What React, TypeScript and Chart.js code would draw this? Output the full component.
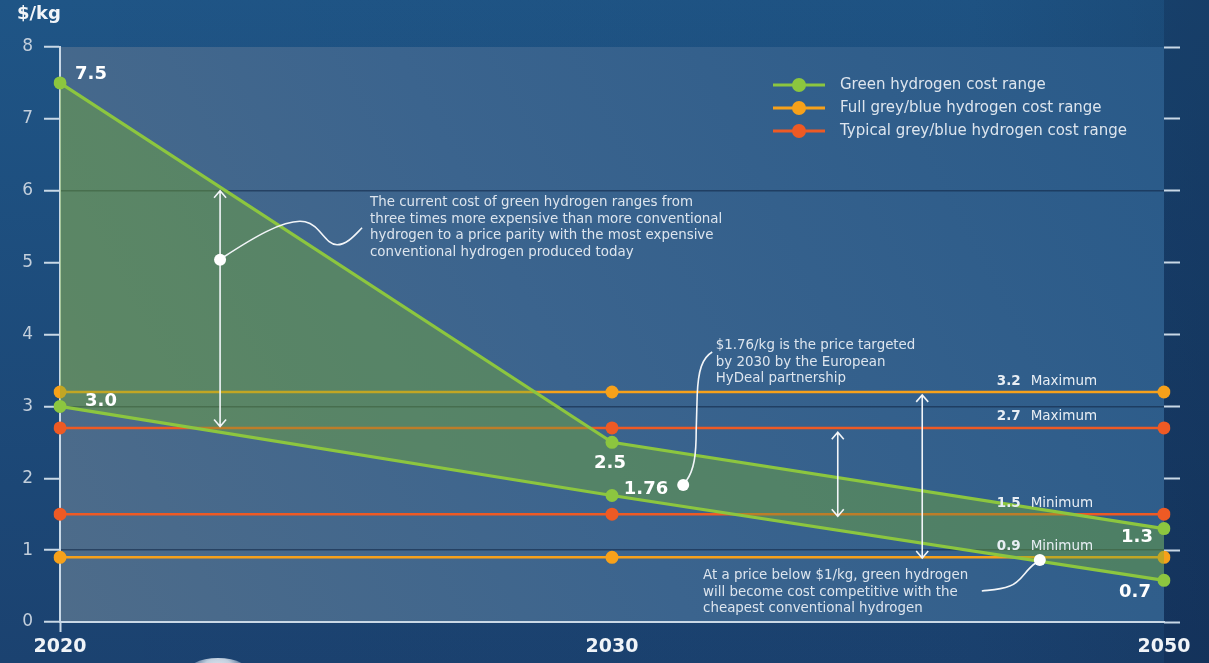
import React, { useEffect, useRef } from 'react';
import { Chart, registerables } from 'chart.js';

Chart.register(...registerables);

// ---------- data ----------
const years = ['2020', '2030', '2050'];
const greenHigh = [7.5, 2.5, 1.3];
const greenLow = [3.0, 1.76, 0.58];
const greenHighLabels = ['7.5', '2.5', '1.3'];
const greenLowLabels = ['3.0', '1.76', '0.7'];
const fullMax = [3.2, 3.2, 3.2];
const fullMin = [0.9, 0.9, 0.9];
const typicalMax = [2.7, 2.7, 2.7];
const typicalMin = [1.5, 1.5, 1.5];
const gridValues = [1, 3, 6];

const legendLabels = [
  'Green hydrogen cost range',
  'Full grey/blue hydrogen cost range',
  'Typical grey/blue hydrogen cost range',
];

const rangeNumbers = ['3.2', '2.7', '1.5', '0.9'];
const rangeWords = ['Maximum', 'Maximum', 'Minimum', 'Minimum'];
const rangeValues = [3.2, 2.7, 1.5, 0.9];

const note1 = [
  'The current cost of green hydrogen ranges from',
  'three times more expensive than more conventional',
  'hydrogen to a price parity with the most expensive',
  'conventional hydrogen produced today',
];
const note2 = [
  '$1.76/kg is the price targeted',
  'by 2030 by the European',
  'HyDeal partnership',
];
const note3 = [
  'At a price below $1/kg, green hydrogen',
  'will become cost competitive with the',
  'cheapest conventional hydrogen',
];

// double arrows: category position, from value, to value
const arrowX = [0.29, 1.409, 1.562];
const arrowFrom = [6.0, 2.64, 3.16];
const arrowTo = [2.72, 1.47, 0.89];

// callout circles: category position, value
const calloutX = [0.29, 1.129, 1.775];
const calloutY = [5.04, 1.906, 0.863];

// notes anchor: category position, value (first line)
const noteX = [0.5616, 1.188, 1.165];
const noteY = [5.83, 3.84, 0.64];

// ---------- style ----------
const GREEN = '#8cc63f';
const ORANGE = '#f7a11a';
const RED = '#ee5a24';
const AXIS = '#c9d8e6';
const TEXT = '#dde5ee';

const bgPlugin = {
  id: 'bgPlugin',
  beforeDraw(chart: any) {
    const { ctx, width, height, chartArea } = chart;
    const { left, top, right, bottom } = chartArea;
    ctx.save();
    const g = ctx.createLinearGradient(0, 0, 0, height);
    g.addColorStop(0, '#1f5586');
    g.addColorStop(1, '#1b4270');
    ctx.fillStyle = g;
    ctx.fillRect(0, 0, width, height);
    const h = ctx.createLinearGradient(0, 0, width, 0);
    h.addColorStop(0, 'rgba(10,30,60,0)');
    h.addColorStop(0.8, 'rgba(10,30,60,0.05)');
    h.addColorStop(1, 'rgba(10,30,60,0.2)');
    ctx.fillStyle = h;
    ctx.fillRect(0, 0, width, height);
    ctx.fillStyle = 'rgba(10,25,55,0.22)';
    ctx.fillRect(right, 0, width - right, height);
    const p = ctx.createLinearGradient(left, bottom, right, top);
    p.addColorStop(0, '#4e6c8a');
    p.addColorStop(0.45, '#3b648e');
    p.addColorStop(1, '#295a89');
    ctx.fillStyle = p;
    ctx.fillRect(left, top, right - left, bottom - top);
    // glow at the bottom edge
    const rg = ctx.createRadialGradient(218, 676, 2, 218, 676, 34);
    rg.addColorStop(0, 'rgba(255,255,255,0.95)');
    rg.addColorStop(0.5, 'rgba(235,242,250,0.8)');
    rg.addColorStop(1, 'rgba(200,215,235,0)');
    ctx.fillStyle = rg;
    ctx.beginPath();
    ctx.ellipse(218, 676, 34, 18, 0, 0, Math.PI * 2);
    ctx.fill();
    ctx.restore();
  },
};

function drawArrow(ctx: CanvasRenderingContext2D, x: number, y1: number, y2: number) {
  ctx.beginPath();
  ctx.moveTo(x, y1);
  ctx.lineTo(x, y2);
  ctx.moveTo(x - 6, y1 + 7);
  ctx.lineTo(x, y1);
  ctx.lineTo(x + 6, y1 + 7);
  ctx.moveTo(x - 6, y2 - 7);
  ctx.lineTo(x, y2);
  ctx.lineTo(x + 6, y2 - 7);
  ctx.stroke();
}

const annotPlugin = {
  id: 'annotPlugin',
  afterDatasetsDraw(chart: any) {
    const { ctx, chartArea } = chart;
    const xs = chart.scales.x;
    const ys = chart.scales.y;
    const px = (i: number) => xs.getPixelForValue(i);
    const py = (v: number) => ys.getPixelForValue(v);
    ctx.save();

    // y axis unit
    ctx.fillStyle = '#f2f5f8';
    ctx.font = 'bold 18px "DejaVu Sans"';
    ctx.textAlign = 'left';
    ctx.textBaseline = 'middle';
    ctx.fillText('$/kg', 17, 14);

    // legend
    const legColors = [GREEN, ORANGE, RED];
    legendLabels.forEach((lab, i) => {
      const y = chartArea.top + 38 + i * 23;
      ctx.strokeStyle = legColors[i];
      ctx.lineWidth = 3;
      ctx.beginPath();
      ctx.moveTo(773, y);
      ctx.lineTo(825, y);
      ctx.stroke();
      ctx.fillStyle = legColors[i];
      ctx.beginPath();
      ctx.arc(799, y, 7, 0, Math.PI * 2);
      ctx.fill();
      ctx.fillStyle = TEXT;
      ctx.font = '15px "DejaVu Sans"';
      ctx.textAlign = 'left';
      ctx.textBaseline = 'middle';
      ctx.fillText(lab, 840, y);
    });

    // arrows
    ctx.strokeStyle = '#f2f5f8';
    ctx.lineWidth = 1.6;
    arrowX.forEach((ax, i) => {
      drawArrow(ctx, px(ax), py(arrowFrom[i]), py(arrowTo[i]));
    });

    // callout curves
    const c = calloutX.map((cx, i) => [px(cx), py(calloutY[i])]);
    ctx.lineWidth = 1.6;
    ctx.beginPath();
    let [x0, y0] = c[0];
    ctx.moveTo(x0 + 4, y0 - 3);
    ctx.bezierCurveTo(x0 + 30, y0 - 20, x0 + 65, y0 - 42, x0 + 85, y0 - 38);
    ctx.bezierCurveTo(x0 + 100, y0 - 35, x0 + 105, y0 - 15, x0 + 117, y0 - 15);
    ctx.bezierCurveTo(x0 + 127, y0 - 15, x0 + 135, y0 - 25, x0 + 142, y0 - 32);
    ctx.stroke();
    [x0, y0] = c[1];
    ctx.beginPath();
    ctx.moveTo(x0 + 3, y0 - 4);
    ctx.bezierCurveTo(x0 + 11, y0 - 15, x0 + 13, y0 - 30, x0 + 13, y0 - 55);
    ctx.lineTo(x0 + 14, y0 - 90);
    ctx.bezierCurveTo(x0 + 15, y0 - 115, x0 + 19, y0 - 127, x0 + 29, y0 - 133);
    ctx.stroke();
    [x0, y0] = c[2];
    ctx.beginPath();
    ctx.moveTo(x0 - 4, y0 + 3);
    ctx.bezierCurveTo(x0 - 15, y0 + 10, x0 - 18, y0 + 22, x0 - 30, y0 + 26);
    ctx.bezierCurveTo(x0 - 40, y0 + 30, x0 - 50, y0 + 30, x0 - 58, y0 + 31);
    ctx.stroke();
    ctx.fillStyle = '#ffffff';
    c.forEach(([x, y]) => {
      ctx.beginPath();
      ctx.arc(x, y, 6, 0, Math.PI * 2);
      ctx.fill();
    });

    // notes
    ctx.fillStyle = TEXT;
    ctx.font = '13.4px "DejaVu Sans"';
    ctx.textAlign = 'left';
    ctx.textBaseline = 'middle';
    [note1, note2, note3].forEach((lines, i) => {
      const x = px(noteX[i]);
      const y = py(noteY[i]);
      lines.forEach((l, j) => ctx.fillText(l, x, y + j * 16.5));
    });

    // range labels
    rangeValues.forEach((v, i) => {
      const x = px(1.697);
      const y = py(v) - 11;
      ctx.fillStyle = '#e8eef4';
      ctx.font = 'bold 13.5px "DejaVu Sans"';
      ctx.textAlign = 'left';
      ctx.fillText(rangeNumbers[i], x, y);
      const w = ctx.measureText(rangeNumbers[i]).width;
      ctx.font = '13.5px "DejaVu Sans"';
      ctx.fillText(rangeWords[i], x + w + 10, y);
    });

    // value labels
    const hiOff = [[31, -9], [-2, 21], [-27, 9]];
    const loOff = [[41, -5], [34, -6], [-29, 12]];
    ctx.fillStyle = '#ffffff';
    ctx.font = 'bold 18px "DejaVu Sans"';
    ctx.textAlign = 'center';
    greenHigh.forEach((v, i) => {
      ctx.fillText(greenHighLabels[i], px(i) + hiOff[i][0], py(v) + hiOff[i][1]);
    });
    greenLow.forEach((v, i) => {
      ctx.fillText(greenLowLabels[i], px(i) + loOff[i][0], py(v) + loOff[i][1]);
    });

    ctx.restore();
  },
};

export default function App() {
  const ref = useRef<HTMLCanvasElement>(null);

  useEffect(() => {
    if (!ref.current) return;
    const line = (label: string, data: number[], color: string, width: number, extra: any = {}) => ({
      label,
      data,
      borderColor: color,
      backgroundColor: color,
      pointBackgroundColor: color,
      pointBorderWidth: 0,
      pointRadius: 6.5,
      borderWidth: width,
      tension: 0,
      fill: false,
      ...extra,
    });
    const chart = new Chart(ref.current, {
      type: 'line',
      data: {
        labels: years,
        datasets: [
          line('Green hydrogen cost range (upper)', greenHigh, GREEN, 3.2),
          line('Green hydrogen cost range (lower)', greenLow, GREEN, 3.2, {
            fill: '-1',
            backgroundColor: 'rgba(120,175,50,0.42)',
          }),
          line('Full grey/blue maximum', fullMax, ORANGE, 2.5),
          line('Full grey/blue minimum', fullMin, ORANGE, 2.5),
          line('Typical grey/blue maximum', typicalMax, RED, 2.5),
          line('Typical grey/blue minimum', typicalMin, RED, 2.5),
        ],
      },
      options: {
        responsive: false,
        animation: false,
        layout: { padding: { top: 47, left: 0, right: 0, bottom: 0 } },
        plugins: { legend: { display: false }, tooltip: { enabled: false } },
        scales: {
          x: {
            type: 'category',
            offset: false,
            grid: {
              drawOnChartArea: false,
              tickLength: 10,
              tickWidth: 2,
              tickColor: (c: any) => (c.index === 0 ? AXIS : 'transparent'),
            },
            border: { color: AXIS, width: 2 },
            ticks: {
              color: '#f0f4f8',
              font: { family: 'DejaVu Sans', size: 19, weight: 'bold' },
              padding: 4,
              maxRotation: 0,
            },
            afterFit: (s: any) => {
              s.height = 41;
            },
          },
          y: {
            min: 0,
            max: 8,
            ticks: {
              stepSize: 1,
              color: '#c3cfdc',
              font: { family: 'DejaVu Sans', size: 17 },
              padding: 11,
            },
            grid: {
              color: (c: any) =>
                c.tick && gridValues.includes(c.tick.value) ? 'rgba(18,40,72,0.6)' : 'transparent',
              lineWidth: 1.5,
              tickLength: 16,
              tickWidth: 2,
              tickColor: AXIS,
            },
            border: { color: AXIS, width: 2 },
            afterFit: (s: any) => {
              s.width = 60;
            },
          },
          y2: {
            position: 'right',
            min: 0,
            max: 8,
            ticks: { stepSize: 1, display: false },
            grid: { drawOnChartArea: false, tickLength: 16, tickWidth: 2, tickColor: AXIS },
            border: { display: false },
            afterFit: (s: any) => {
              s.width = 45;
            },
          },
        },
      } as any,
      plugins: [bgPlugin, annotPlugin],
    });
    return () => chart.destroy();
  }, []);

  return (
    <div style={{ position: 'fixed', left: 0, top: 0, width: 1209, height: 663 }}>
      <canvas ref={ref} width={1209} height={663} style={{ display: 'block' }} />
    </div>
  );
}
